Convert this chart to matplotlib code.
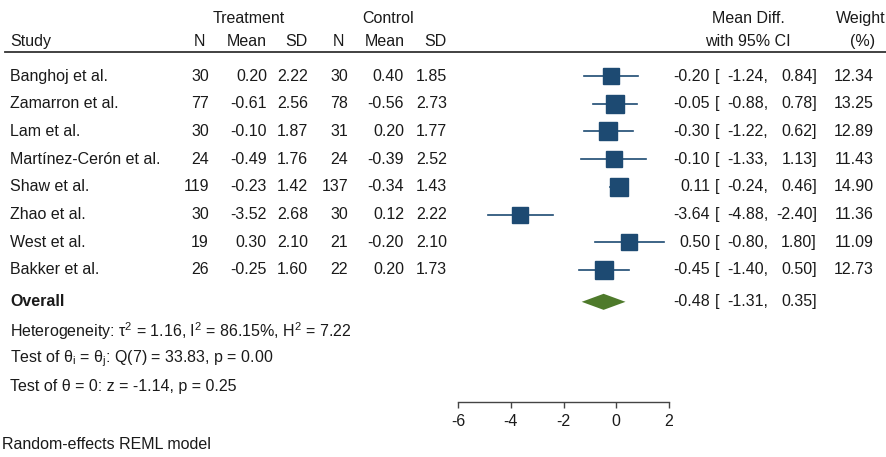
import matplotlib.pyplot as plt
import matplotlib.transforms as mtransforms
import numpy as np

plt.rcParams['font.family'] = ['Liberation Sans', 'DejaVu Sans']
plt.rcParams['mathtext.fontset'] = 'custom'
plt.rcParams['mathtext.rm'] = 'Liberation Sans'
plt.rcParams['mathtext.it'] = 'Liberation Sans'

# data
studies = ['Banghoj et al.', 'Zamarron et al.', 'Lam et al.', 'Martínez-Cerón et al.',
           'Shaw et al.', 'Zhao et al.', 'West et al.', 'Bakker et al.']
n_t = [30, 77, 30, 24, 119, 30, 19, 26]
mean_t = [0.20, -0.61, -0.10, -0.49, -0.23, -3.52, 0.30, -0.25]
sd_t = [2.22, 2.56, 1.87, 1.76, 1.42, 2.68, 2.10, 1.60]
n_c = [30, 78, 31, 24, 137, 30, 21, 22]
mean_c = [0.40, -0.56, 0.20, -0.39, -0.34, 0.12, -0.20, 0.20]
sd_c = [1.85, 2.73, 1.77, 2.52, 1.43, 2.22, 2.10, 1.73]
md = [-0.20, -0.05, -0.30, -0.10, 0.11, -3.64, 0.50, -0.45]
lo = [-1.24, -0.88, -1.22, -1.33, -0.24, -4.88, -0.80, -1.40]
hi = [0.84, 0.78, 0.62, 1.13, 0.46, -2.40, 1.80, 0.50]
weights = [12.34, 13.25, 12.89, 11.43, 14.90, 11.36, 11.09, 12.73]
overall = (-0.48, -1.31, 0.35)
xticks = [-6, -4, -2, 0, 2]

W, H = 886, 457
fig = plt.figure(figsize=(W / 100, H / 100), dpi=100)
# forest axes: x from -6 (px 458) to 2 (px 669), full height
ax = fig.add_axes([458 / W, 0, (669 - 458) / W, 1])
ax.set_xlim(-6, 2)
ax.set_ylim(13.75, -2.743)
ax.axis('off')

blue = '#1d4a72'
green = '#4e7a2b'
txtc = '#1a1a1a'
fs = 11.5

rows = np.arange(len(studies))
for i in rows:
    ax.plot([lo[i], hi[i]], [i, i], color=blue, lw=1.2, clip_on=False, zorder=2)
    ax.plot(md[i], i, marker='s', color=blue, ms=3.45 * np.sqrt(weights[i]),
            mec=blue, clip_on=False, zorder=3)

y_ov = 8.15
ax.fill([overall[1], overall[0], overall[2], overall[0]],
        [y_ov, y_ov - 0.29, y_ov, y_ov + 0.29], color=green, lw=0, clip_on=False)

tr = mtransforms.blended_transform_factory(fig.transFigure, ax.transData)


def put(xpx, y, s, ha='right', **kw):
    ax.text(xpx / W, y, s, transform=tr, ha=ha, va='center', fontsize=fs,
            color=txtc, clip_on=False, **kw)


# headers
put(249, -2.09, 'Treatment', ha='center')
put(388, -2.09, 'Control', ha='center')
put(748, -2.09, 'Mean Diff.', ha='center')
put(886, -2.09, 'Weight')
put(10, -1.26, 'Study', ha='left')
put(205, -1.26, 'N')
put(267, -1.26, 'Mean')
put(308, -1.26, 'SD')
put(344, -1.26, 'N')
put(405, -1.26, 'Mean')
put(447, -1.26, 'SD')
put(748, -1.26, 'with 95% CI', ha='center')
put(863, -1.26, '(%)', ha='center')
ax.plot([5 / W, 1], [-0.87, -0.87], transform=tr, color='#333333', lw=1.3, clip_on=False)


def ci_text(y, m, l, h):
    put(710, y, f'{m:.2f}')
    put(715, y, '[', ha='left')
    put(768, y, f'{l:.2f},')
    put(817, y, f'{h:.2f}]')


for i in rows:
    put(10, i, studies[i], ha='left')
    put(209, i, f'{n_t[i]}')
    put(267, i, f'{mean_t[i]:.2f}')
    put(308, i, f'{sd_t[i]:.2f}')
    put(348, i, f'{n_c[i]}')
    put(404, i, f'{mean_c[i]:.2f}')
    put(447, i, f'{sd_c[i]:.2f}')
    ci_text(i, md[i], lo[i], hi[i])
    put(874, i, f'{weights[i]:.2f}')

put(10, y_ov, 'Overall', ha='left', fontweight='bold')
ci_text(y_ov, *overall)

put(10, 9.2, r'Heterogeneity: τ$^\mathrm{2}$ = 1.16, I$^\mathrm{2}$ = 86.15%, H$^\mathrm{2}$ = 7.22', ha='left')
put(10, 10.21, r'Test of θ$_\mathrm{i}$ = θ$_\mathrm{j}$: Q(7) = 33.83, p = 0.00', ha='left')
put(10, 11.22, 'Test of θ = 0: z = -1.14, p = 0.25', ha='left')
put(2, 13.3, 'Random-effects REML model', ha='left')

# bottom axis
ax2 = fig.add_axes([458 / W, (H - 402) / H, (669 - 458) / W, 0.001], sharex=ax)
ax2.set_facecolor('none')
for s in ['top', 'left', 'right']:
    ax2.spines[s].set_visible(False)
ax2.spines['bottom'].set_color('#444444')
ax2.spines['bottom'].set_linewidth(1.0)
ax2.set_yticks([])
ax2.set_xticks(xticks)
ax2.set_xticklabels([str(t) for t in xticks])
ax2.tick_params(axis='x', length=4, width=1, color='#444444', labelsize=fs,
                labelcolor=txtc, pad=5)
ax2.set_xlim(-6, 2)

fig.savefig('out.png', dpi=100, facecolor='white')
